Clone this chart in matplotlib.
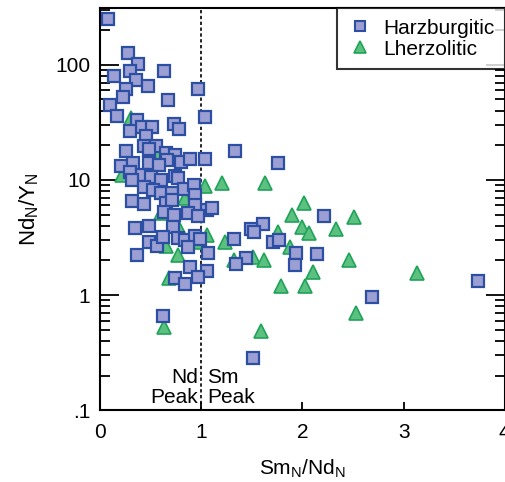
import matplotlib
matplotlib.use('Agg')
import matplotlib.pyplot as plt
from matplotlib.ticker import LogLocator, FixedLocator, NullFormatter
from matplotlib.lines import Line2D

plt.rcParams['font.family'] = ['Liberation Sans', 'DejaVu Sans']
plt.rcParams['mathtext.fontset'] = 'custom'
plt.rcParams['mathtext.rm'] = 'Liberation Sans'

# Harzburgitic samples (Sm_N/Nd_N, Nd_N/Y_N)
harz_x = [0.08, 0.28, 0.38, 0.14, 0.30, 0.36, 0.47, 0.26, 0.23, 0.63,
          0.67, 0.10, 0.17, 0.97, 1.04, 0.37, 0.42, 0.51, 0.30, 0.45,
          0.73, 0.78, 0.26, 0.43, 0.55, 0.48, 0.65, 0.74, 0.66, 0.80,
          0.89, 1.04, 0.21, 0.33, 0.48, 0.58, 0.30, 0.42, 0.50, 0.60,
          0.32, 0.74, 0.77, 0.43, 0.52, 0.60, 0.71, 0.83, 0.93, 0.94,
          0.32, 0.43, 0.65, 0.71, 1.06, 0.94, 0.63, 0.73, 0.87, 0.97,
          1.11, 0.35, 0.48, 0.72, 0.48, 0.56, 0.62, 0.77, 0.84, 0.94,
          0.99, 0.87, 1.07, 0.37, 0.89, 1.06, 0.74, 0.97, 0.84, 0.62,
          1.51, 1.33, 1.76, 2.21, 1.61, 1.49, 1.52, 1.71, 1.77, 1.32,
          1.94, 2.14, 1.44, 1.34, 1.93, 2.69, 3.74]
harz_y = [251, 127, 102, 80, 89, 74, 66, 62, 53, 89,
          49, 45, 36, 61, 35, 33, 28.9, 28.9, 26.7, 24.1,
          30.7, 27.8, 17.9, 19.8, 19.8, 18.6, 17.2, 16.5, 14.9, 14.3,
          15.2, 15.2, 13.2, 14.1, 14.1, 13.5, 11.7, 11.0, 10.6, 10.0,
          10.0, 10.8, 10.4, 8.7, 8.2, 7.7, 7.7, 8.4, 9.0, 7.4,
          6.5, 6.2, 6.3, 6.7, 5.5, 6.1, 5.3, 4.96, 5.2, 4.9,
          5.7, 3.8, 4.0, 3.9, 2.9, 2.67, 3.2, 3.1, 3.0, 3.26,
          3.07, 2.6, 2.32, 2.23, 1.75, 1.62, 1.41, 1.43, 1.25, 0.66,
          0.283, 17.9, 14.1, 4.9, 4.1, 3.75, 3.5, 2.9, 3.0, 3.07,
          2.32, 2.27, 2.1, 1.86, 1.82, 0.96, 1.32]

# Lherzolitic samples
lherz_x = [0.31, 0.58, 0.22, 1.04, 0.84, 0.60, 0.77, 0.65, 0.98, 0.77,
           0.68, 0.63, 1.06, 1.21, 1.63, 2.02, 1.90, 2.00, 2.07, 1.76,
           2.33, 2.51, 1.24, 1.88, 1.51, 1.62, 1.32, 2.10, 2.46, 1.79,
           2.03, 2.53, 1.59, 3.13]
lherz_y = [34.6, 17.2, 11.0, 8.9, 7.0, 5.2, 4.0, 2.67, 2.89, 2.23,
           1.41, 0.53, 3.3, 9.4, 9.4, 6.3, 4.96, 3.9, 3.46, 3.5,
           3.75, 4.77, 2.89, 2.6, 2.14, 2.02, 2.02, 1.58, 2.02, 1.2,
           1.2, 0.70, 0.49, 1.55]

harz_face, harz_edge = '#9c9fd3', '#2c4fa3'
lherz_face, lherz_edge = '#5cc080', '#1fa359'
fs = 15

fig = plt.figure(figsize=(5.06, 4.82), dpi=100)
ax = fig.add_axes([0.1976, 0.149, 0.8, 0.834])

ax.axvline(1, color='black', linestyle=(0, (2, 1.5)), linewidth=1.2, zorder=1)

ax.plot(lherz_x, lherz_y, linestyle='none', marker='^', markersize=9.5,
        markerfacecolor=lherz_face, markeredgecolor=lherz_edge,
        markeredgewidth=1.2, zorder=2)
ax.plot(harz_x, harz_y, linestyle='none', marker='s', markersize=8,
        markerfacecolor=harz_face, markeredgecolor=harz_edge,
        markeredgewidth=1.6, zorder=3)

ax.set_yscale('log')
ax.set_xlim(0, 4)
ax.set_ylim(0.1, 310)

ax.xaxis.set_major_locator(FixedLocator([0, 1, 2, 3, 4]))
ax.set_xticklabels(['0', '1', '2', '3', '4'])
ax.yaxis.set_major_locator(FixedLocator([0.1, 1, 10, 100]))
ax.set_yticklabels(['.1', '1', '10', '100'])
ax.yaxis.set_minor_locator(LogLocator(base=10, subs=range(2, 10)))
ax.yaxis.set_minor_formatter(NullFormatter())

ax.tick_params(axis='both', which='both', direction='in', labelsize=fs,
               color='black', width=1.3)
ax.tick_params(axis='y', which='major', length=14, right=True, pad=7)
ax.tick_params(axis='y', which='minor', length=7, right=True)
ax.tick_params(axis='x', which='major', length=6, pad=9)
for s in ax.spines.values():
    s.set_linewidth(1.5)

ax.set_xlabel('Sm$_\\mathregular{N}$/Nd$_\\mathregular{N}$', fontsize=fs, labelpad=11)
ax.set_ylabel('Nd$_\\mathregular{N}$/Y$_\\mathregular{N}$', fontsize=fs + 1, labelpad=10)

ax.text(0.97, 0.107, 'Nd\nPeak', ha='right', va='bottom', fontsize=fs,
        linespacing=1.05)
ax.text(1.06, 0.107, 'Sm\nPeak', ha='left', va='bottom', fontsize=fs,
        linespacing=1.05)

handles = [
    Line2D([], [], linestyle='none', marker='s', markersize=7.5,
           markerfacecolor=harz_face, markeredgecolor=harz_edge,
           markeredgewidth=1.5, label='Harzburgitic'),
    Line2D([], [], linestyle='none', marker='^', markersize=9,
           markerfacecolor=lherz_face, markeredgecolor=lherz_edge,
           markeredgewidth=1.2, label='Lherzolitic'),
]
leg = ax.legend(handles=handles, loc='upper right', fontsize=fs,
                frameon=True, fancybox=False, borderaxespad=0,
                handletextpad=0.5, labelspacing=0.1, borderpad=0.5,
                handlelength=1.2)
leg.get_frame().set_edgecolor('black')
leg.get_frame().set_linewidth(1.5)

fig.savefig('out.png', dpi=100)
